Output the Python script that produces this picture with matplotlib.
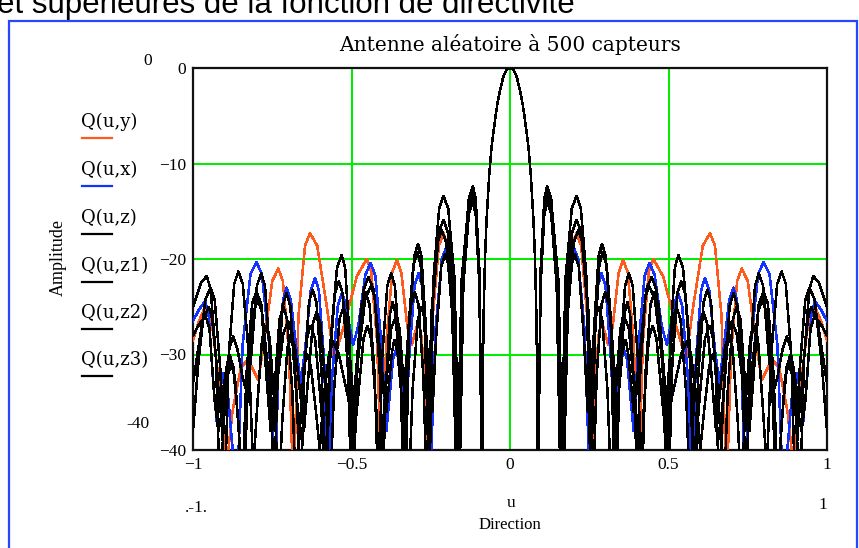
import numpy as np
import matplotlib
matplotlib.use("Agg")
import matplotlib.pyplot as plt
from matplotlib.patches import Rectangle
from matplotlib.lines import Line2D

# ---------------------------------------------------------------
# Directivity patterns (dB) of six random 500-sensor arrays.
# Patterns are symmetric in u, so only u >= 0 is listed.
# ---------------------------------------------------------------
main_u = [0.0, 0.011, 0.021, 0.031, 0.04, 0.047, 0.058, 0.066, 0.074, 0.079, 0.084]
main_q = [0.0, -0.2, -0.9, -2.3, -3.8, -5.4, -8.2, -11.4, -15.9, -20.1, -27.0]

u_y = [0.088, 0.0967, 0.1083, 0.117, 0.1305, 0.1485, 0.162, 0.1764, 0.1956, 0.21,
       0.2244, 0.2436, 0.258, 0.2676, 0.2804, 0.29, 0.296, 0.31, 0.3241, 0.3429,
       0.357, 0.3714, 0.3906, 0.405, 0.4191, 0.4379, 0.452, 0.4829, 0.5241, 0.555,
       0.5778, 0.6082, 0.631, 0.6466, 0.6674, 0.683, 0.6974, 0.7166, 0.731, 0.7499,
       0.7751, 0.794, 0.8192, 0.83, 0.8495, 0.8755, 0.895, 0.9151, 0.9419, 0.962,
       0.982, 1.0]
q_y = [-45, -22, -14.6, -13.3, -14.6, -22, -45, -26, -18.6, -17.3,
       -18.6, -26, -40, -33, -27.8, -26.5, -27.3, -29, -27, -21.4,
       -20.1, -21.4, -28.8, -45, -28.7, -21.3, -20.0, -21.8, -27, -30.5,
       -25, -18.6, -17.3, -18.6, -26, -45, -29.7, -22.3, -21, -22.3,
       -28.5, -32.7, -31, -30.6, -31.5, -36, -42, -33.7, -26.3, -25,
       -26.6, -28.5]

u_x = [0.088, 0.0967, 0.1083, 0.117, 0.1314, 0.1506, 0.165, 0.1755, 0.1895, 0.2,
       0.215, 0.235, 0.25, 0.2617, 0.2773, 0.289, 0.3013, 0.3177, 0.33, 0.351,
       0.36, 0.369, 0.39, 0.405, 0.425, 0.44, 0.4565, 0.4785, 0.495, 0.5195,
       0.53, 0.5432, 0.5608, 0.574, 0.5863, 0.6027, 0.615, 0.6285, 0.6465, 0.66,
       0.6735, 0.6915, 0.705, 0.7161, 0.7309, 0.742, 0.7594, 0.7826, 0.80, 0.8186,
       0.8434, 0.862, 0.8921, 0.905, 0.911, 0.925, 0.9361, 0.9509, 0.962, 0.981,
       1.0]
q_x = [-45, -22.2, -14.8, -13.5, -14.8, -22.2, -45, -27.4, -20, -18.7,
       -20, -27.4, -42, -30.2, -22.8, -21.5, -22.8, -30.2, -38, -30.5,
       -29.5, -30.5, -38, -29.1, -21.7, -20.4, -21.7, -27, -29, -24.6,
       -23.6, -24.9, -32.3, -45, -30.7, -23.3, -22, -23.3, -29.5, -33,
       -29.5, -24.3, -23, -24.3, -31.7, -45, -29, -21.6, -20.3, -21.6,
       -29, -45, -33.3, -32, -33, -37, -33.1, -25.7, -24.4, -25.3,
       -26.5]

u_z = [0.088, 0.0967, 0.1083, 0.117, 0.1299, 0.1471, 0.16, 0.175, 0.195, 0.21,
       0.2235, 0.2415, 0.255, 0.2655, 0.2795, 0.29, 0.302, 0.318, 0.33, 0.3405,
       0.3545, 0.365, 0.3725, 0.39, 0.4071, 0.4299, 0.447, 0.4614, 0.4806, 0.495,
       0.5058, 0.5202, 0.531, 0.5457, 0.5653, 0.58, 0.595, 0.615, 0.63, 0.6405,
       0.6545, 0.665, 0.677, 0.693, 0.705, 0.717, 0.733, 0.745, 0.757, 0.773,
       0.785, 0.7985, 0.8165, 0.83, 0.8429, 0.8601, 0.873, 0.8856, 0.9024, 0.915,
       0.9276, 0.9444, 0.957, 0.975, 1.0]
q_z = [-45, -21.1, -13.7, -12.4, -13.7, -21.1, -45, -22.1, -14.7, -13.4,
       -14.7, -22.1, -45, -27.1, -19.7, -18.4, -19.7, -27.1, -45, -35,
       -29.8, -28.5, -29.8, -36, -30.6, -23.2, -21.9, -23.2, -30.6, -45,
       -28.3, -20.9, -19.6, -20.9, -28.3, -45, -35.7, -28.3, -27, -28.3,
       -34, -38, -32.3, -24.9, -23.6, -24.9, -32.3, -45, -30.2, -22.8,
       -21.5, -22.8, -30.2, -34, -32.5, -29.4, -28.1, -29.4, -36.8, -45,
       -30.5, -23.1, -21.8, -22.5, -25]

u_z1 = [0.088, 0.0967, 0.1083, 0.117, 0.1308, 0.1492, 0.163, 0.1771, 0.1959, 0.21,
        0.2244, 0.2436, 0.258, 0.2682, 0.2818, 0.292, 0.3049, 0.3221, 0.335, 0.347,
        0.363, 0.375, 0.387, 0.403, 0.415, 0.427, 0.443, 0.455, 0.4685, 0.4865,
        0.5, 0.512, 0.528, 0.54, 0.5526, 0.5694, 0.582, 0.5943, 0.6107, 0.623,
        0.6341, 0.6489, 0.66, 0.672, 0.688, 0.70, 0.715, 0.735, 0.75, 0.765,
        0.785, 0.80, 0.8135, 0.8315, 0.845, 0.857, 0.873, 0.885, 0.894, 0.915,
        0.9255, 0.9395, 0.95, 0.97, 1.0]
q_z1 = [-45, -21.5, -14.1, -12.8, -14.1, -21.5, -45, -24.6, -17.2, -15.9,
        -17.2, -24.6, -40, -28, -20.6, -19.3, -20.6, -28, -45, -30.2,
        -22.8, -21.5, -22.8, -30.2, -45, -32.2, -24.8, -23.5, -24.8, -32.2,
        -45, -31, -23.6, -22.3, -23.6, -31, -42, -31.9, -24.5, -23.2,
        -24.5, -31.9, -45, -35.2, -27.8, -26.5, -27.8, -33, -38, -31,
        -24.7, -23.4, -24.7, -32.1, -45, -37, -31.3, -30, -31.3, -36,
        -31, -26.3, -25, -26.5, -33]

u_z2 = [0.088, 0.0967, 0.1083, 0.117, 0.1323, 0.1527, 0.168, 0.1821, 0.2009, 0.215,
        0.2291, 0.2479, 0.262, 0.2734, 0.2886, 0.3, 0.312, 0.328, 0.34, 0.349,
        0.361, 0.37, 0.379, 0.391, 0.4, 0.4114, 0.4266, 0.438, 0.4566, 0.4814,
        0.5, 0.5174, 0.5406, 0.558, 0.5706, 0.5894, 0.6, 0.612, 0.628, 0.64,
        0.6505, 0.6645, 0.675, 0.687, 0.703, 0.715, 0.727, 0.743, 0.755, 0.767,
        0.783, 0.795, 0.8085, 0.8265, 0.84, 0.852, 0.868, 0.88, 0.892, 0.908,
        0.92, 0.932, 0.948, 0.96, 0.98, 1.0]
q_z2 = [-45, -22.2, -14.8, -13.5, -14.8, -22.2, -45, -25.7, -18.3, -17,
        -18.3, -25.7, -45, -32.2, -24.8, -23.5, -24.8, -31, -36, -31,
        -25.8, -24.5, -25.8, -33.2, -42, -31.5, -24.1, -22.8, -24.1, -31,
        -36, -33.5, -29.9, -28.6, -29.9, -35, -40, -36, -31.3, -30,
        -31.3, -38.7, -45, -33.7, -26.3, -25, -26.3, -33.7, -38, -32.9,
        -25.5, -24.2, -25.5, -32.9, -45, -39.7, -32.3, -31, -32.3, -36,
        -38, -34.7, -27.3, -26, -26.8, -28]

u_z3 = [0.088, 0.0967, 0.1083, 0.117, 0.1299, 0.1471, 0.16, 0.1735, 0.1915, 0.205,
        0.217, 0.233, 0.245, 0.2549, 0.2681, 0.278, 0.2906, 0.3074, 0.32, 0.332,
        0.348, 0.36, 0.375, 0.395, 0.41, 0.422, 0.438, 0.45, 0.462, 0.478,
        0.49, 0.5005, 0.5145, 0.525, 0.5379, 0.5551, 0.568, 0.5806, 0.5974, 0.61,
        0.622, 0.638, 0.65, 0.662, 0.678, 0.69, 0.702, 0.718, 0.73, 0.742,
        0.758, 0.77, 0.782, 0.798, 0.81, 0.8241, 0.8429, 0.857, 0.8699, 0.8871,
        0.9, 0.9135, 0.9315, 0.945, 0.9615, 0.9835, 1.0]
q_z3 = [-45, -22.7, -15.3, -14, -15.3, -22.7, -45, -28.2, -20.8, -19.5,
        -20.8, -28.2, -36, -32, -26.3, -25, -26.3, -33.7, -45, -34.7,
        -27.3, -26, -27.3, -34.7, -45, -35.7, -28.3, -27, -28.3, -34,
        -38, -32, -26.3, -25, -26.3, -33.7, -45, -34.2, -26.8, -25.5,
        -26.8, -33, -38, -34, -29.3, -28, -29.3, -36.7, -45, -35.7,
        -28.3, -27, -28.3, -35.7, -42, -30, -22.6, -21.3, -22.6, -30,
        -45, -31.7, -24.3, -23, -24.3, -31, -38]

series_names = ["Q(u,y)", "Q(u,x)", "Q(u,z)", "Q(u,z1)", "Q(u,z2)", "Q(u,z3)"]
series_u = [u_y, u_x, u_z, u_z1, u_z2, u_z3]
series_q = [q_y, q_x, q_z, q_z1, q_z2, q_z3]
series_colors = ["#ff5a1e", "#1432ff", "#000000", "#000000", "#000000", "#000000"]

x_ticks = [-1, -0.5, 0, 0.5, 1]
x_tick_labels = ["\u22121", "\u22120.5", "0", "0.5", "1"]
y_ticks = [-40, -30, -20, -10, 0]
y_tick_labels = ["\u221240", "\u221230", "\u221220", "\u221210", "0"]

title = "Antenne al\u00e9atoire \u00e0 500 capteurs"
heading = "et sup\u00e9rieures de la fonction de directivit\u00e9"

W, H = 859, 548
fig = plt.figure(figsize=(W / 100, H / 100), dpi=100)


def fx(px):
    return px / W


def fy(py):
    return 1 - py / H


def symmetric(u, q):
    u = np.concatenate([main_u, u])
    q = np.concatenate([main_q, q])
    return np.concatenate([-u[::-1], u[1:]]), np.concatenate([q[::-1], q[1:]])


# heading of the page, partly cut off at the top
fig.text(fx(-3), fy(13), heading, family="Liberation Sans", fontsize=22.5,
         ha="left", va="baseline", color="black")

# blue frame of the region
fig.add_artist(Rectangle((fx(9), fy(560)), fx(857) - fx(9), fy(21) - fy(560),
                         transform=fig.transFigure, fill=False,
                         edgecolor="#2846ff", linewidth=1.6))

ax = fig.add_axes([fx(193), fy(450), (827 - 193) / W, (450 - 68) / H])

for u, q, c in zip(series_u, series_q, series_colors):
    uu, qq = symmetric(u, q)
    ax.plot(uu, qq, color=c, linewidth=1.1, antialiased=False, zorder=3)

ax.set_xlim(-1, 1)
ax.set_ylim(-40, 0)
ax.set_xticks(x_ticks)
ax.set_xticklabels(x_tick_labels)
ax.set_yticks(y_ticks)
ax.set_yticklabels(y_tick_labels)
ax.tick_params(length=0, pad=5)
for lab in ax.get_xticklabels() + ax.get_yticklabels():
    lab.set_family("Liberation Serif")
    lab.set_fontsize(12.5)
ax.grid(True, color="#00ee00", linewidth=1.3, antialiased=False)
ax.set_axisbelow(True)
for sp in ax.spines.values():
    sp.set_linewidth(1.6)
    sp.set_color("#111111")

ax.set_title(title, family="DejaVu Serif", fontsize=14.5, pad=12)

# axis limit placeholders and axis names
fig.text(fx(148), fy(61), "0", family="Liberation Serif", fontsize=12.5,
         ha="center", va="center")
fig.text(fx(138), fy(424), "-40", family="Liberation Serif", fontsize=12.5,
         ha="center", va="center")
fig.text(fx(196), fy(508), ".-1.", family="Liberation Serif", fontsize=12.5,
         ha="center", va="center")
fig.text(fx(511), fy(503), "u", family="Liberation Serif", fontsize=12.5,
         ha="center", va="center")
fig.text(fx(823), fy(505), "1", family="Liberation Serif", fontsize=12.5,
         ha="center", va="center")
fig.text(fx(510), fy(525), "Direction", family="Liberation Serif", fontsize=12,
         ha="center", va="center")
fig.text(fx(58), fy(257), "Amplitude", family="Liberation Serif", fontsize=13,
         ha="center", va="center", rotation=90)

# trace legend: name with a line sample below it
legend_text_y = [122, 170, 218, 266, 313, 360]
for name, c, ty in zip(series_names, series_colors, legend_text_y):
    fig.text(fx(81), fy(ty), name, family="DejaVu Serif", fontsize=13,
             ha="left", va="center")
    fig.add_artist(Line2D([fx(82), fx(112)], [fy(ty + 16), fy(ty + 16)],
                          transform=fig.transFigure, color=c, linewidth=1.6))

fig.savefig("out.png", dpi=100)
